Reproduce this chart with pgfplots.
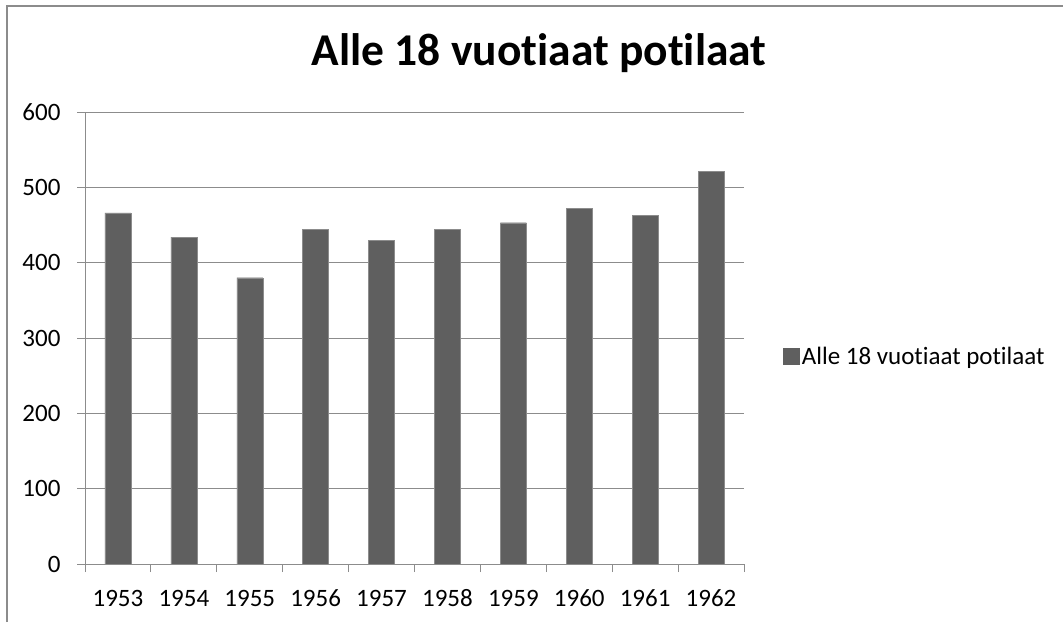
\documentclass[border=0pt]{standalone}
\usepackage{pgfplots}
\pgfplotsset{compat=1.18}
\usepackage{fontspec}
\setmainfont[RawFeature={-liga;-calt;-dlig;-clig}]{Carlito}
\definecolor{barfill}{HTML}{5F5F5F}
\definecolor{baredge}{HTML}{8C8C8C}
\definecolor{gridc}{HTML}{8C8C8C}
\newcommand{\ttl}{Alle 18 vuot\kern0pt iaat pot\kern0pt ilaat}
\begin{document}
\begin{tikzpicture}[x=1pt,y=1pt]
\path[use as bounding box] (0,0) rectangle (1063,622);
\draw[gridc, line width=1.5pt] (7,0) -- (7,616) -- (1063,616);
\node[font=\fontsize{45.5}{52}\bfseries\selectfont, anchor=base] at (539,556) {\ttl};
\begin{axis}[
  at={(85pt,58pt)}, anchor=south west, scale only axis,
  width=659pt, height=452pt,
  xmin=-0.5, xmax=9.5, ymin=0, ymax=600,
  xtick={0,...,9},
  xticklabels={1953,1954,1955,1956,1957,1958,1959,1960,1961,1962},
  minor xtick={-0.5,0.5,...,9.5},
  ytick={0,100,...,600},
  /pgf/number format/assume math mode=true,
  ymajorgrids, grid style={gridc, line width=1pt},
  minor x grid style={draw=none},
  axis x line*=bottom, axis y line*=left,
  axis line style={gridc, line width=1pt},
  tick align=outside,
  x tick style={draw=none},
  minor x tick style={draw=gridc, line width=1pt},
  y tick style={gridc, line width=1pt},
  major tick length=8pt, minor tick length=8pt,
  ticklabel style={font=\fontsize{25}{30}\selectfont},
  xticklabel style={text height=16pt, text depth=0pt, yshift=-14.5pt},
  yticklabel style={xshift=-13pt},
  legend style={at={(1.055,0.46)}, anchor=west, draw=none, fill=none,
    font=\fontsize{25}{30}\selectfont},
  legend cell align=left,
]
\addplot[ybar, bar width=26pt, fill=barfill, draw=baredge,
  area legend,
  legend image code/.code={\fill[barfill] (0pt,-8pt) rectangle (16pt,8pt);}]
  coordinates {(0,466) (1,434) (2,380) (3,444) (4,430) (5,444) (6,453) (7,472) (8,463) (9,521)};
\addlegendentry{\ttl}
\end{axis}
\end{tikzpicture}
\end{document}
